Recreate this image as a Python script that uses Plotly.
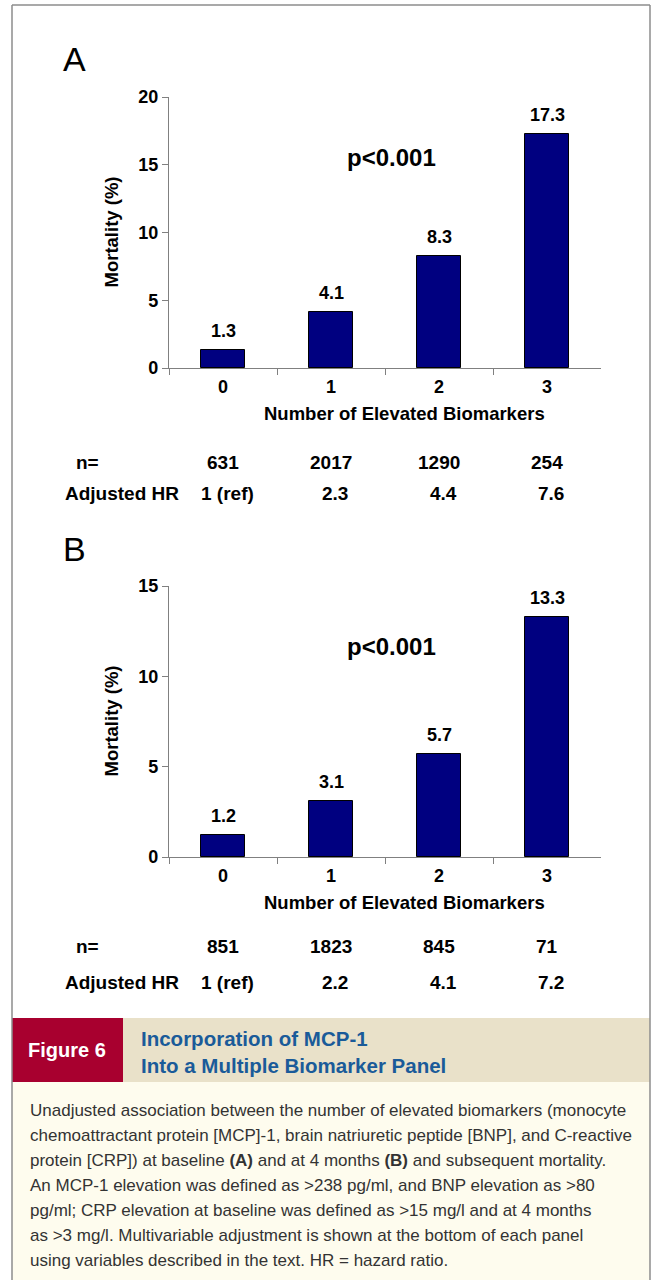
import plotly.graph_objects as go

W, H = 656, 1280

categories = ["0", "1", "2", "3"]
mortality_a = [1.3, 4.1, 8.3, 17.3]
mortality_b = [1.2, 3.1, 5.7, 13.3]
n_a = ["631", "2017", "1290", "254"]
n_b = ["851", "1823", "845", "71"]
hr_a = ["1 (ref)", "2.3", "4.4", "7.6"]
hr_b = ["1 (ref)", "2.2", "4.1", "7.2"]
yticks_a = [0, 5, 10, 15, 20]
yticks_b = [0, 5, 10, 15]
p_text = "p&lt;0.001"
x_title = "Number of Elevated Biomarkers"
y_title = "Mortality (%)"
banner_label = "Figure 6"
banner_title = ["Incorporation of MCP-1", "Into a Multiple Biomarker Panel"]
caption_lines = [
    "Unadjusted association between the number of elevated biomarkers (monocyte",
    "chemoattractant protein [MCP]-1, brain natriuretic peptide [BNP], and C-reactive",
    "protein [CRP]) at baseline <b>(A)</b> and at 4 months <b>(B)</b> and subsequent mortality.",
    "An MCP-1 elevation was defined as &gt;238 pg/ml, and BNP elevation as &gt;80",
    "pg/ml; CRP elevation at baseline was defined as &gt;15 mg/l and at 4 months",
    "as &gt;3 mg/l. Multivariable adjustment is shown at the bottom of each panel",
    "using variables described in the text. HR = hazard ratio.",
]

FONT = "Liberation Sans, Arial, sans-serif"
NAVY = "#000080"
AXIS = "#808080"


def px(x):
    return x / W


def py(y):
    return 1 - y / H


fig = go.Figure()

panels = [
    dict(vals=mortality_a, n=n_a, hr=hr_a, ticks=yticks_a, top=97, bottom=368,
         xa="x", ya="y", letter="A", letter_y=59, n_off=94, hr_off=125),
    dict(vals=mortality_b, n=n_b, hr=hr_b, ticks=yticks_b, top=586, bottom=857,
         xa="x2", ya="y2", letter="B", letter_y=549, n_off=89, hr_off=125),
]

annotations = []
left, right = 169, 601


def txt(x, y, text, size=18, color="#000", xanchor="center", **kw):
    d = dict(x=x, y=y, xref="paper", yref="paper", text=text, showarrow=False,
             xanchor=xanchor, yanchor="middle",
             font=dict(family=FONT, size=size, color=color))
    d.update(kw)
    annotations.append(d)


for i, p in enumerate(panels):
    fig.add_trace(go.Bar(
        x=categories, y=p["vals"], width=0.41,
        marker=dict(color=NAVY, line=dict(color="#000000", width=1)),
        xaxis=p["xa"], yaxis=p["ya"], showlegend=False, hoverinfo="skip",
    ))
    suffix = "" if i == 0 else "2"
    fig.layout["xaxis" + suffix] = dict(
        type="category", domain=[px(left), px(right)], anchor="y" + suffix,
        range=[-0.5, 3.5], tickson="boundaries", ticks="outside", ticklen=6,
        tickcolor=AXIS, showline=True, linecolor=AXIS, linewidth=1.2,
        showgrid=False, zeroline=False, showticklabels=False, fixedrange=True,
        automargin=False,
    )
    fig.layout["yaxis" + suffix] = dict(
        domain=[py(p["bottom"]), py(p["top"])], anchor="x" + suffix,
        range=[0, p["ticks"][-1]], tickvals=p["ticks"], ticks="outside",
        ticklen=6, tickcolor=AXIS, showline=True, linecolor=AXIS, linewidth=1.2,
        showgrid=False, zeroline=False,
        tickfont=dict(family=FONT, size=18, color="#000000", weight="bold"),
        fixedrange=True, automargin=False,
    )
    xref = p["xa"]
    yref = p["ya"]
    for c, v in zip(categories, p["vals"]):
        annotations.append(dict(
            x=c, y=v, xref=xref, yref=yref, text=f"<b>{v}</b>", showarrow=False,
            xanchor="center", yanchor="middle", yshift=19,
            font=dict(family=FONT, size=18, color="#000")))
    for c in categories:
        annotations.append(dict(
            x=c, y=py(p["bottom"] + 19), xref=xref, yref="paper", text=f"<b>{c}</b>",
            showarrow=False, xanchor="center", yanchor="middle",
            font=dict(family=FONT, size=18, color="#000")))
    txt(px(404), py(p["bottom"] + 45), f"<b>{x_title}</b>", size=18.5)
    txt(px(111), py((p["top"] + p["bottom"]) / 2), f"<b>{y_title}</b>", size=18.5,
        textangle=-90)
    txt(px(391), py(p["top"] + 60), f"<b>{p_text}</b>", size=24)
    txt(px(74), py(p["letter_y"]), p["letter"], size=34)
    n_y = p["bottom"] + p["n_off"]
    hr_y = p["bottom"] + p["hr_off"]
    txt(px(87), py(n_y), "<b>n=</b>", size=19)
    txt(px(63), py(hr_y), "<b>Adjusted HR</b>", size=19, xanchor="left")
    for c, t in zip(categories, p["n"]):
        annotations.append(dict(
            x=c, y=py(n_y), xref=xref, yref="paper", text=f"<b>{t}</b>",
            showarrow=False, xanchor="center", yanchor="middle",
            font=dict(family=FONT, size=19, color="#000")))
    for c, t in zip(categories, p["hr"]):
        annotations.append(dict(
            x=c, y=py(hr_y), xref=xref, yref="paper", text=f"<b>{t}</b>",
            showarrow=False, xanchor="center", yanchor="middle", xshift=4,
            font=dict(family=FONT, size=19, color="#000")))

# banner
txt(px(67), py(1050), f"<b>{banner_label}</b>", size=20, color="#ffffff")
txt(px(139), py(1052), "<b>" + "<br>".join(banner_title) + "</b>", size=20.5,
    color="#1a5b99", xanchor="left", align="left")
# caption
for k, line in enumerate(caption_lines):
    txt(px(28), py(1110 + 25 * k), line, size=17, color="#333333",
        xanchor="left", align="left")

shapes = [
    dict(type="rect", xref="paper", yref="paper", x0=px(12), x1=px(123),
         y0=py(1082), y1=py(1018), fillcolor="#a8002f", line=dict(width=0), layer="below"),
    dict(type="rect", xref="paper", yref="paper", x0=px(123), x1=px(650),
         y0=py(1082), y1=py(1018), fillcolor="#e9e1c9", line=dict(width=0), layer="below"),
    dict(type="rect", xref="paper", yref="paper", x0=px(12), x1=px(650),
         y0=py(1295), y1=py(1082), fillcolor="#fefcee", line=dict(width=0), layer="below"),
    dict(type="line", xref="paper", yref="paper", x0=px(12), x1=px(12),
         y0=py(5), y1=py(1295), line=dict(color="#8c8c8c", width=1.5)),
    dict(type="line", xref="paper", yref="paper", x0=px(650), x1=px(650),
         y0=py(5), y1=py(1295), line=dict(color="#8c8c8c", width=1.5)),
    dict(type="line", xref="paper", yref="paper", x0=px(12), x1=px(650),
         y0=py(5), y1=py(5), line=dict(color="#8c8c8c", width=1.5)),
]

fig.update_layout(
    width=W, height=H, margin=dict(l=0, r=0, t=0, b=0, pad=0, autoexpand=False),
    paper_bgcolor="#ffffff", plot_bgcolor="rgba(0,0,0,0)",
    annotations=annotations, shapes=shapes, bargap=0,
    font=dict(family=FONT, color="#000"),
)

post = (
    "document.documentElement.style.margin='0';"
    "document.documentElement.style.padding='0';"
    "document.documentElement.style.overflow='hidden';"
    "document.body.style.margin='0';"
    "document.body.style.padding='0';"
    "document.body.style.overflow='hidden';"
    "var gd=document.getElementById('{plot_id}');"
    "gd.style.position='fixed';gd.style.top='0px';gd.style.left='0px';"
)

fig.write_html("out.html", config={"displayModeBar": False}, post_script=post)
